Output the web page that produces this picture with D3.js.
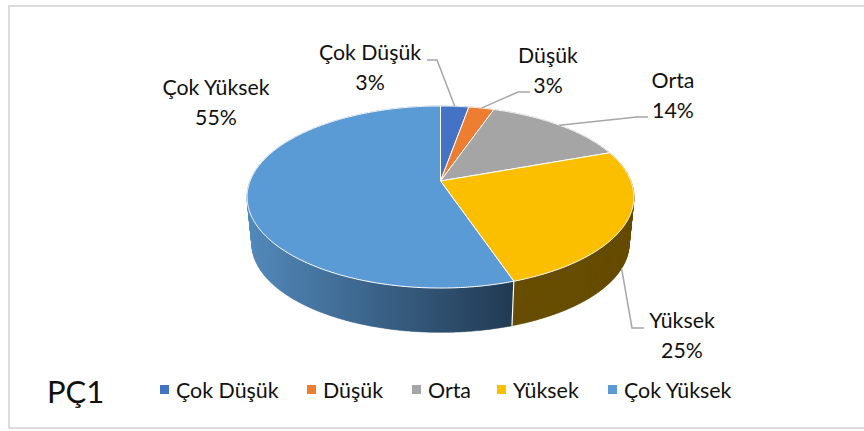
<!DOCTYPE html>
<html>
<head>
<meta charset="utf-8">
<script src="https://cdn.jsdelivr.net/npm/d3@7"></script>
<style>
  html, body { margin: 0; padding: 0; background: #fff; }
  svg { display: block; }
  text { font-family: Lato, sans-serif; fill: #111; }
</style>
</head>
<body>
<div id="chart"></div>
<script>
const categories = ["Çok Düşük", "Düşük", "Orta", "Yüksek", "Çok Yüksek"];
const values = [2.8, 2.5, 14.2, 25.3, 55.2];
const percentLabels = ["3%", "3%", "14%", "25%", "55%"];
const colors = ["#4472c4", "#ed7d31", "#a5a5a5", "#fbbf00", "#5b9bd5"];
const wallColors = ["#2a4576", "#8e4b1d", "#636363", "#664d00", "url(#blueWall)"];

const width = 864, height = 431;

// pie tilt: the disc goes through a small perspective so the front looks bigger
const cx = 440.5, cy = 181;
const a = 190.4, b = 88.2, k = -0.176;
const depth = 47, wallScale = 0.975;

const svg = d3.select("#chart").append("svg")
    .attr("width", width)
    .attr("height", height);

const grad = svg.append("defs").append("linearGradient")
    .attr("id", "blueWall")
    .attr("gradientUnits", "userSpaceOnUse")
    .attr("x1", 248).attr("x2", 514).attr("y1", 0).attr("y2", 0);
grad.append("stop").attr("offset", "0%").attr("stop-color", "#5289bb");
grad.append("stop").attr("offset", "100%").attr("stop-color", "#213a52");

// frame, open on the right
svg.append("path")
    .attr("d", "M864,6H9V428H864")
    .attr("fill", "none")
    .attr("stroke", "#dcdcdc")
    .attr("stroke-width", 2);

const pie = d3.pie().sort(null);
const arcs = pie(values);

function topPoint(t) {
    const u = Math.sin(t), v = -Math.cos(t), w = 1 + k * v;
    return [cx + a * u / w, cy + b * v / w];
}
function bottomPoint(t) {
    const p = topPoint(t);
    return [cx + (p[0] - cx) * wallScale, cy + (p[1] - cy) * wallScale + depth];
}
function sweep(t0, t1) {
    const n = Math.ceil((t1 - t0) / 0.01);
    return d3.range(n + 1).map(i => t0 + (t1 - t0) * i / n);
}
const line = d3.line();

// side walls first, the top faces cover whatever is behind
// built from small quads so the left and right silhouette stays filled
svg.append("g").selectAll("path")
    .data(arcs)
    .enter().append("path")
    .attr("d", d => {
        const ts = sweep(d.startAngle, d.endAngle);
        return d3.pairs(ts).map(([t0, t1]) => {
            const quad = [topPoint(t0), topPoint(t1), bottomPoint(t1), bottomPoint(t0)];
            if (d3.polygonArea(quad) < 0) quad.reverse();
            return line(quad) + "Z";
        }).join("");
    })
    .attr("fill", (d, i) => wallColors[i])
    .attr("stroke", (d, i) => wallColors[i])
    .attr("stroke-width", 0.5);

// white seam where the two visible walls meet
svg.append("path")
    .attr("d", line([topPoint(arcs[4].startAngle), bottomPoint(arcs[4].startAngle)]))
    .attr("stroke", "#fff")
    .attr("stroke-width", 1.2);

svg.append("g").selectAll("path")
    .data(arcs)
    .enter().append("path")
    .attr("d", d => line([[cx, cy]].concat(sweep(d.startAngle, d.endAngle).map(topPoint))) + "Z")
    .attr("fill", (d, i) => colors[i])
    .attr("stroke", "#fff")
    .attr("stroke-width", 1);

// data labels with their leader lines
const labelPos = [
    { x: 370, y: 60, elbow: [437, 60], end: [427, 60] },
    { x: 548, y: 63, elbow: [518, 92], end: [530, 92] },
    { x: 673, y: 88, elbow: [637, 117], end: [648, 117] },
    { x: 682, y: 328, elbow: [632, 328], end: [644, 328] },
    { x: 216, y: 95 }
];

svg.append("g").selectAll("path")
    .data(arcs.filter((d, i) => labelPos[i].elbow))
    .enter().append("path")
    .attr("d", d => {
        const mid = (d.startAngle + d.endAngle) / 2;
        const start = d.index === 3 ? bottomPoint(mid) : topPoint(mid);
        return line([start, labelPos[d.index].elbow, labelPos[d.index].end]);
    })
    .attr("fill", "none")
    .attr("stroke", "#a6a6a6")
    .attr("stroke-width", 1.5);

const labels = svg.append("g").selectAll("text")
    .data(categories)
    .enter().append("text")
    .attr("text-anchor", "middle")
    .attr("font-size", 21.3);
labels.append("tspan")
    .attr("x", (d, i) => labelPos[i].x)
    .attr("y", (d, i) => labelPos[i].y)
    .text(d => d);
labels.append("tspan")
    .attr("x", (d, i) => labelPos[i].x)
    .attr("y", (d, i) => labelPos[i].y + 29.5)
    .text((d, i) => percentLabels[i]);

// legend
const legendX = d3.scaleOrdinal().domain(categories).range([160, 307, 412, 497, 608]);
const legend = svg.append("g").selectAll("g")
    .data(categories)
    .enter().append("g")
    .attr("transform", d => "translate(" + legendX(d) + ",385)");
legend.append("rect")
    .attr("width", 9).attr("height", 9)
    .attr("fill", (d, i) => colors[i]);
legend.append("text")
    .attr("x", 16).attr("y", 12.5)
    .attr("font-size", 21.4)
    .text(d => d);

svg.append("text")
    .attr("x", 47).attr("y", 403)
    .attr("font-size", 31)
    .text("PÇ1");
</script>
</body>
</html>
